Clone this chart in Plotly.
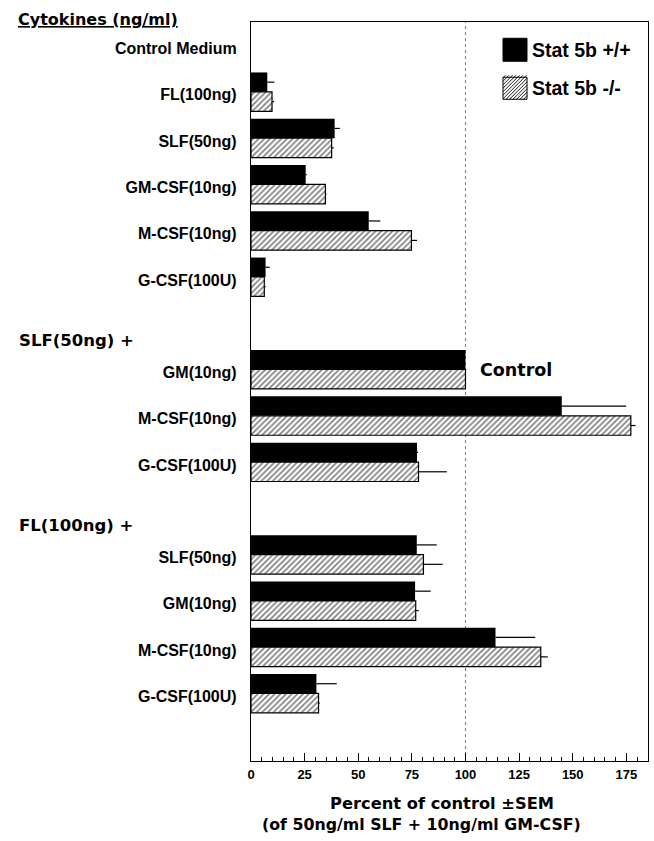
import plotly.graph_objects as go

# ---------------- data ----------------
labels = ["Control Medium", "FL(100ng)", "SLF(50ng)", "GM-CSF(10ng)", "M-CSF(10ng)", "G-CSF(100U)",
          "GM(10ng)", "M-CSF(10ng)", "G-CSF(100U)",
          "SLF(50ng)", "GM(10ng)", "M-CSF(10ng)", "G-CSF(100U)"]
positions = [0, 1, 2, 3, 4, 5, 7, 8, 9, 11, 12, 13, 14]

wt_values = [None, 7.6, 39.0, 25.5, 54.9, 6.8, 100, 144.9, 77.4, 77.3, 76.5, 114.0, 30.5]
wt_sem = [0, 3.3, 2.4, 0.5, 5.4, 1.9, 0, 30.0, 0.5, 9.3, 7.3, 18.5, 9.5]
ko_values = [None, 9.8, 37.6, 34.7, 74.8, 6.2, 100, 177.1, 78.1, 80.4, 76.8, 135.1, 31.5]
ko_sem = [0, 0.9, 1.0, 0.5, 2.6, 0.6, 0, 2.2, 13.2, 9.0, 1.4, 3.3, 0.5]

series_names = ["Stat 5b +/+", "Stat 5b -/-"]
group_headers = ["Cytokines (ng/ml)", "SLF(50ng) +", "FL(100ng) +"]
x_ticks = [0, 25, 50, 75, 100, 125, 150, 175]

# ---------------- layout geometry (pixels) ----------------
W, H = 654, 841
X0, X1, Y0, Y1 = 251, 648, 21.7, 761


def px(x):
    return (x - X0) / (X1 - X0)


def py(y):
    return 1 - (y - Y0) / (Y1 - Y0)


LAB = "Liberation Sans, Arial, sans-serif"
DJ = "DejaVu Sans, sans-serif"

fig = go.Figure()
fig.add_trace(go.Bar(
    y=positions, x=wt_values, orientation="h", name=series_names[0],
    marker=dict(color="black", line=dict(width=0)),
    error_x=dict(type="data", array=wt_sem, arrayminus=[0] * len(wt_sem), symmetric=False,
                 color="black", thickness=1.2, width=0),
    showlegend=False,
))
fig.add_trace(go.Bar(
    y=positions, x=ko_values, orientation="h", name=series_names[1],
    marker=dict(color="white", line=dict(color="black", width=1.2),
                pattern=dict(shape="/", fgcolor="black", bgcolor="white", size=4, solidity=0.42)),
    error_x=dict(type="data", array=ko_sem, arrayminus=[0] * len(ko_sem), symmetric=False,
                 color="black", thickness=1.2, width=0),
    showlegend=False,
))

shapes = []
# dotted reference line at 100 %
shapes.append(dict(type="line", xref="x", yref="paper", x0=100, x1=100, y0=0, y1=1,
                   line=dict(color="#777777", width=1, dash="dot"), layer="below"))

# legend: solid square
shapes.append(dict(type="rect", xref="paper", yref="paper",
                   x0=px(503), x1=px(527), y0=py(61), y1=py(38),
                   fillcolor="black", line=dict(color="black", width=1)))
# legend: hatched square
hx0, hx1, hy0, hy1 = 503, 527, 77, 99
shapes.append(dict(type="rect", xref="paper", yref="paper",
                   x0=px(hx0), x1=px(hx1), y0=py(hy1), y1=py(hy0),
                   fillcolor="white", line=dict(color="black", width=1)))
s = hx1 - hx0
segs = []
c = -s
step = 3.5
while c < s:
    u0 = max(0.0, -c)
    u1 = min(float(s), s - c)
    if u1 > u0:
        xa, ya = hx0 + u0, hy1 - (u0 + c)
        xb, yb = hx0 + u1, hy1 - (u1 + c)
        segs.append(f"M{px(xa)},{py(ya)} L{px(xb)},{py(yb)}")
    c += step
shapes.append(dict(type="path", xref="paper", yref="paper", path=" ".join(segs),
                   line=dict(color="black", width=0.9)))

annotations = [
    dict(text=series_names[0], xref="paper", yref="paper", x=px(530), y=py(50),
         xanchor="left", yanchor="middle", showarrow=False,
         font=dict(family=LAB, size=19.5, color="black", weight="bold")),
    dict(text=series_names[1], xref="paper", yref="paper", x=px(530), y=py(88),
         xanchor="left", yanchor="middle", showarrow=False,
         font=dict(family=LAB, size=19.5, color="black", weight="bold")),
    dict(text="<u>" + group_headers[0] + "</u>", xref="paper", yref="paper", x=px(16), y=py(19),
         xanchor="left", yanchor="middle", showarrow=False,
         font=dict(family=DJ, size=16, color="black", weight="bold")),
    dict(text=group_headers[1], xref="paper", yref="paper", x=px(17), y=py(340),
         xanchor="left", yanchor="middle", showarrow=False,
         font=dict(family=DJ, size=16.5, color="black", weight="bold")),
    dict(text=group_headers[2], xref="paper", yref="paper", x=px(17), y=py(525),
         xanchor="left", yanchor="middle", showarrow=False,
         font=dict(family=DJ, size=16.5, color="black", weight="bold")),
    dict(text="Control", xref="x", yref="y", x=106, y=7,
         xanchor="left", yanchor="middle", showarrow=False,
         font=dict(family=DJ, size=17.5, color="black", weight="bold")),
    dict(text="Percent of control ±SEM", xref="paper", yref="paper", x=px(442), y=py(803.5),
         xanchor="center", yanchor="middle", showarrow=False,
         font=dict(family=DJ, size=16.3, color="black", weight="bold")),
    dict(text="(of 50ng/ml SLF + 10ng/ml GM-CSF)", xref="paper", yref="paper", x=px(421), y=py(825),
         xanchor="center", yanchor="middle", showarrow=False,
         font=dict(family=DJ, size=15.8, color="black", weight="bold")),
]

fig.update_layout(
    width=W, height=H,
    margin=dict(l=X0, r=W - X1, t=Y0, b=H - Y1, pad=0),
    paper_bgcolor="white", plot_bgcolor="white",
    barmode="group", bargap=0.16, bargroupgap=0,
    shapes=shapes, annotations=annotations,
    showlegend=False,
)
fig.update_xaxes(
    range=[0, 185.1], tickvals=x_ticks, ticktext=[str(v) for v in x_ticks],
    ticks="inside", ticklen=8, tickwidth=1.2, tickcolor="black",
    minor=dict(dtick=5, tick0=0, ticks="inside", ticklen=4, tickwidth=1, tickcolor="black"),
    showline=True, linecolor="black", linewidth=1.3, mirror=True,
    showgrid=False, zeroline=False,
    tickfont=dict(family=LAB, size=13, color="black", weight="bold"),
    ticklabelstandoff=1,
)
fig.update_yaxes(
    range=[15.46, -0.51], tickvals=positions, ticktext=labels,
    ticks="", showline=True, linecolor="black", linewidth=1.3, mirror=True,
    showgrid=False, zeroline=False,
    tickfont=dict(family=LAB, size=16, color="black", weight="bold"),
    ticklabelstandoff=10, ticklabelshift=-3,
)

fig.write_html("out.html", config={"displayModeBar": False},
               post_script="document.body.style.margin='0';document.body.style.overflow='hidden';")
